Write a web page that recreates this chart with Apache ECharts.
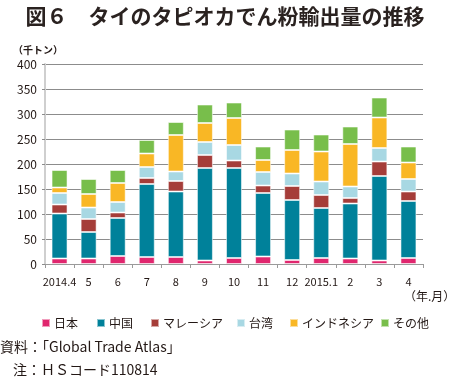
<!DOCTYPE html>
<html><head><meta charset="utf-8">
<script src="https://cdn.jsdelivr.net/npm/echarts@6/dist/echarts.min.js"></script>
<style>html,body{margin:0;padding:0;background:#fff}#c{width:450px;height:379px}</style>
</head><body><div id="c"></div>
<script>
const categories = ['2014.4','5','6','7','8','9','10','11','12','2015.1','2','3','4'];
const japan     = [11, 11, 16, 14, 14,  7, 12, 15,  8, 12, 11,  7, 12];
const china     = [90, 53, 76,146,131,185,180,127,120,100,110,169,114];
const malaysia  = [18, 26, 11, 12, 21, 26, 15, 15, 28, 26, 11, 29, 19];
const taiwan    = [23, 23, 21, 22, 19, 26, 31, 27, 25, 27, 23, 27, 25];
const indonesia = [11, 27, 38, 27, 73, 38, 54, 24, 47, 60, 85, 61, 33];
const others    = [35, 30, 26, 27, 26, 37, 31, 27, 41, 34, 35, 40, 32];
const yTicks = [0, 50, 100, 150, 200, 250, 300, 350, 400];

const names  = ['日本','中国','マレーシア','台湾','インドネシア','その他'];
const colors = ['#e0266e','#00819a','#a53d39','#a8d8e3','#f9b725','#78be4b'];
const datas  = [japan, china, malaysia, taiwan, indonesia, others];
const legendLeft = [36, 91, 145, 231, 284, 375];

const FONT = '"Noto Sans CJK JP","Noto Sans",sans-serif';
const chart = echarts.init(document.getElementById('c'), null, {renderer:'canvas'});
chart.setOption({
  animation:false,
  backgroundColor:'#fff',
  textStyle:{fontFamily:FONT},
  title:{text:'図６　タイのタピオカでん粉輸出量の推移', left:'center', top:1,
    textStyle:{fontFamily:FONT, fontSize:21, fontWeight:'bold', color:'#2a2220'}},
  grid:{left:45, right:27, top:64, bottom:115},
  legend: names.map((n,i)=>({
    data:[n], left:legendLeft[i], top:312, itemWidth:8, itemHeight:8, itemGap:4,
    icon:'rect', textStyle:{fontFamily:FONT, fontSize:12, color:'#231815', padding:[0,0,0,-1]}, selectedMode:false
  })),
  xAxis:{type:'category', data:categories,
    axisLine:{lineStyle:{color:'#9a9a9a', width:1}},
    axisTick:{show:true, length:4, lineStyle:{color:'#9a9a9a'}},
    axisLabel:{fontFamily:FONT, fontSize:11, color:'#231815', margin:12, interval:0}},
  yAxis:{type:'value', min:0, max:400, interval:50,
    axisLine:{show:true, lineStyle:{color:'#cfcfcf', width:2}},
    axisTick:{show:true, length:3, lineStyle:{color:'#8c8c8c'}},
    splitLine:{lineStyle:{color:'#8c8c8c', width:1}},
    axisLabel:{fontFamily:FONT, fontSize:12, color:'#231815', margin:8,
      formatter:v=>yTicks.includes(v)?String(v):''}},
  graphic:[
    {type:'text', left:13, top:45, style:{text:'（千トン）', font:'bold 10px '+FONT, fill:'#231815'}},
    {type:'text', left:404, top:290, style:{text:'（年.月）', font:'12px '+FONT, fill:'#231815'}},
    {type:'text', left:0, top:340, style:{text:'資料：「Global Trade Atlas」', font:'14px '+FONT, fill:'#231815'}},
    {type:'text', left:13, top:363, style:{text:'注：ＨＳコード110814', font:'14px '+FONT, fill:'#231815'}}
  ],
  series: names.map((n,i)=>({
    name:n, type:'bar', stack:'t', data:datas[i], barWidth:'55%',
    itemStyle:{color:colors[i], borderColor:'rgba(255,255,255,0.55)', borderWidth:1}
  }))
});
</script></body></html>
